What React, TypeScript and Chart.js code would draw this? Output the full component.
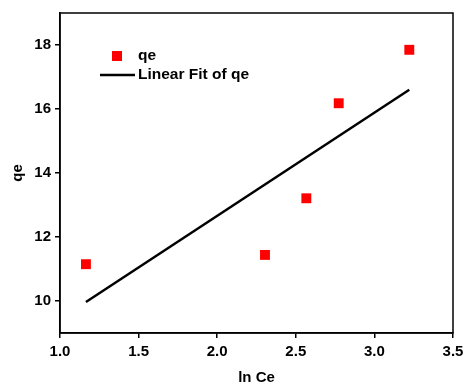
import React, { useEffect, useRef } from "react";
import { Chart, registerables } from "chart.js";

Chart.register(...registerables);

const lnCe = [1.165, 2.304, 2.567, 2.773, 3.222];
const qe = [11.15, 11.44, 13.21, 16.18, 17.85];
const fitX = [1.165, 3.222];
const fitY = [9.97, 16.6];
const yTicks = [10, 12, 14, 16, 18];
const xTicks = [1.0, 1.5, 2.0, 2.5, 3.0, 3.5];

const FONT = "'Liberation Sans', Arial, sans-serif";

const framePlugin = {
  id: "frame",
  afterDraw(chart: any) {
    const { ctx, chartArea: a } = chart;
    ctx.save();
    ctx.strokeStyle = "#000";
    ctx.lineWidth = 1.5;
    ctx.strokeRect(a.left, a.top, a.right - a.left, a.bottom - a.top);
    // legend
    ctx.fillStyle = "#ff0000";
    ctx.fillRect(112, 51, 10, 10);
    ctx.strokeStyle = "#000";
    ctx.lineWidth = 2.5;
    ctx.beginPath();
    ctx.moveTo(100, 75);
    ctx.lineTo(135, 75);
    ctx.stroke();
    ctx.fillStyle = "#000";
    ctx.font = `bold 15.5px ${FONT}`;
    ctx.textBaseline = "middle";
    ctx.textAlign = "left";
    ctx.fillText("qe", 138, 56);
    ctx.fillText("Linear Fit of qe", 138, 75);
    ctx.restore();
  },
};

export default function App() {
  const ref = useRef<HTMLCanvasElement>(null);
  useEffect(() => {
    document.body.style.margin = "0";
    const chart = new Chart(ref.current!, {
      type: "scatter",
      data: {
        datasets: [
          {
            label: "Linear Fit of qe",
            data: fitX.map((x, i) => ({ x, y: fitY[i] })),
            showLine: true,
            borderColor: "#000",
            borderWidth: 2.5,
            pointRadius: 0,
            fill: false,
          },
          {
            label: "qe",
            data: lnCe.map((x, i) => ({ x, y: qe[i] })),
            pointStyle: "rect",
            pointRadius: 7,
            backgroundColor: "#ff0000",
            borderColor: "#ff0000",
            borderWidth: 0,
          },
        ],
      },
      options: {
        animation: false,
        responsive: false,
        layout: { padding: { top: 13, right: 12, left: 0, bottom: 0 } },
        plugins: { legend: { display: false }, tooltip: { enabled: false } },
        scales: {
          x: {
            type: "linear",
            min: 1,
            max: 3.5,
            afterBuildTicks: (s: any) => {
              s.ticks = xTicks.map((v) => ({ value: v }));
            },
            afterFit: (s: any) => {
              s.height = 57;
              s.paddingLeft = 0;
              s.paddingRight = 0;
            },
            ticks: {
              color: "#000",
              font: { family: FONT, size: 15, weight: "bold" },
              padding: 5,
              maxRotation: 0,
              callback: (v: any) => Number(v).toFixed(1),
            },
            grid: {
              drawOnChartArea: false,
              drawTicks: true,
              tickLength: 5,
              color: "#000",
              lineWidth: 1.5,
            },
            border: { display: true, color: "#000", width: 1.5 },
            title: {
              display: true,
              text: "ln Ce",
              color: "#000",
              font: { family: FONT, size: 15, weight: "bold" },
              padding: { top: 4, bottom: 3 },
            },
          },
          y: {
            type: "linear",
            min: 9,
            max: 19,
            afterBuildTicks: (s: any) => {
              s.ticks = yTicks.map((v) => ({ value: v }));
            },
            afterFit: (s: any) => {
              s.width = 60;
              s.paddingTop = 0;
              s.paddingBottom = 0;
            },
            ticks: {
              color: "#000",
              font: { family: FONT, size: 15, weight: "bold" },
              padding: 4,
              callback: (v: any) => String(v),
            },
            grid: {
              drawOnChartArea: false,
              drawTicks: true,
              tickLength: 5,
              color: "#000",
              lineWidth: 1.5,
            },
            border: { display: true, color: "#000", width: 1.5 },
            title: {
              display: true,
              text: "qe",
              color: "#000",
              font: { family: FONT, size: 15, weight: "bold" },
              padding: { top: 9, bottom: 4 },
            },
          },
        },
      },
      plugins: [framePlugin],
    } as any);
    return () => chart.destroy();
  }, []);
  return (
    <div style={{ width: 465, height: 385, overflow: "hidden" }}>
      <canvas ref={ref} width={465} height={390} style={{ display: "block" }} />
    </div>
  );
}
